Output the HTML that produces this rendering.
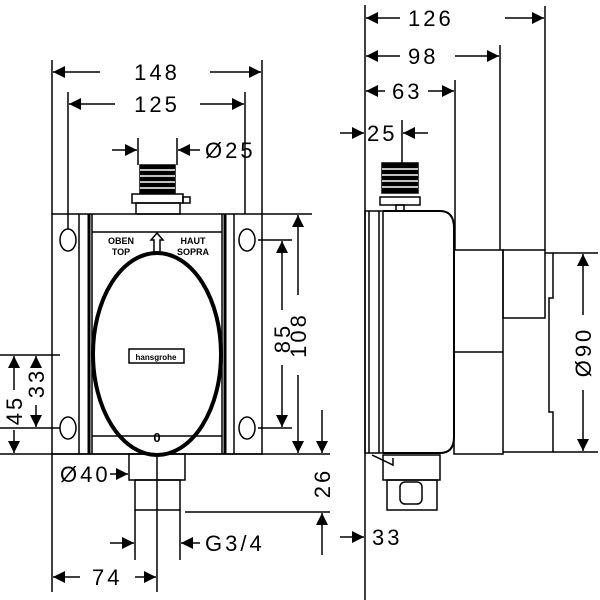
<!DOCTYPE html>
<html><head><style>body{margin:0;background:#fff}svg{display:block}text{font-family:"Liberation Sans",sans-serif;font-size:22px;fill:#000;letter-spacing:3px}</style></head><body>
<svg width="600" height="600" viewBox="0 0 600 600" stroke="#000" fill="none" stroke-width="1.5">
<defs><marker id="a" viewBox="0 0 10 10" refX="10" refY="5" markerWidth="20" markerHeight="12" markerUnits="userSpaceOnUse" orient="auto"><path d="M0,0L10,5L0,10z" fill="#000" stroke="none"/></marker></defs>
<!-- LEFT VIEW -->
<rect x="52" y="214" width="210" height="240"/>
<line x1="79" y1="214" x2="79" y2="454"/><line x1="234" y1="214" x2="234" y2="454"/>
<line x1="89" y1="214" x2="89" y2="454" stroke-width="3"/><line x1="225" y1="214" x2="225" y2="454" stroke-width="3"/>
<line x1="92" y1="214" x2="92" y2="454"/><line x1="222" y1="214" x2="222" y2="454"/>
<line x1="92" y1="232" x2="222" y2="232"/><line x1="92" y1="436" x2="222" y2="436"/>
<ellipse cx="68" cy="240" rx="8" ry="11"/><ellipse cx="68" cy="428" rx="8" ry="11"/>
<ellipse cx="247" cy="240" rx="8" ry="11"/><ellipse cx="247" cy="428" rx="8" ry="11"/>
<ellipse cx="157" cy="354" rx="64" ry="101" stroke-width="4"/>
<rect x="129" y="349" width="55" height="14"/>
<text x="156" y="360" style="font-size:8px;letter-spacing:0;font-weight:bold" text-anchor="middle" stroke="none">hansgrohe</text>
<text x="157" y="442" style="font-size:13px;font-weight:bold;letter-spacing:0" text-anchor="middle" stroke="none">0</text>
<text x="121" y="244" style="font-size:9px;font-weight:bold;letter-spacing:0" text-anchor="middle" stroke="none">OBEN</text>
<text x="121" y="255" style="font-size:9px;font-weight:bold;letter-spacing:0" text-anchor="middle" stroke="none">TOP</text>
<text x="193" y="244" style="font-size:9px;font-weight:bold;letter-spacing:0" text-anchor="middle" stroke="none">HAUT</text>
<text x="193" y="255" style="font-size:9px;font-weight:bold;letter-spacing:0" text-anchor="middle" stroke="none">SOPRA</text>
<path d="M154,252V240H151L157,233L163,240H160V252"/>
<!-- top connector -->
<rect x="140" y="165" width="35" height="28" fill="#000"/>
<g stroke="#fff" stroke-width="1.5"><line x1="140" y1="170" x2="175" y2="170"/><line x1="140" y1="176" x2="175" y2="176"/><line x1="140" y1="182" x2="175" y2="182"/><line x1="140" y1="188" x2="175" y2="188"/></g>
<rect x="132" y="194" width="51" height="9"/><rect x="136" y="203" width="44" height="11"/><rect x="183" y="197" width="7" height="6"/>
<!-- bottom outlet -->
<rect x="129" y="454" width="56" height="26"/><rect x="135" y="480" width="45" height="30"/>
<line x1="0" y1="454" x2="330" y2="454"/>
<!-- dims left -->
<line x1="52" y1="214" x2="52" y2="60"/><line x1="262" y1="214" x2="262" y2="60"/>
<line x1="100" y1="72" x2="53" y2="72" marker-end="url(#a)"/><line x1="210" y1="72" x2="261" y2="72" marker-end="url(#a)"/>
<text x="157" y="80" text-anchor="middle" stroke="none">148</text>
<line x1="68" y1="229" x2="68" y2="92"/><line x1="245" y1="214" x2="245" y2="92"/>
<line x1="115" y1="104" x2="69" y2="104" marker-end="url(#a)"/><line x1="200" y1="104" x2="244" y2="104" marker-end="url(#a)"/>
<text x="157" y="112" text-anchor="middle" stroke="none">125</text>
<line x1="138" y1="165" x2="138" y2="138"/><line x1="177" y1="165" x2="177" y2="138"/>
<line x1="112" y1="150" x2="137" y2="150" marker-end="url(#a)"/><line x1="200" y1="150" x2="178" y2="150" marker-end="url(#a)"/>
<text x="205" y="158" stroke="none">Ø25</text>
<line x1="262" y1="214" x2="312" y2="214"/><line x1="258" y1="240" x2="292" y2="240"/><line x1="258" y1="428" x2="292" y2="428"/>
<line x1="298" y1="295" x2="298" y2="215" marker-end="url(#a)"/><line x1="298" y1="375" x2="298" y2="453" marker-end="url(#a)"/>
<line x1="282" y1="310" x2="282" y2="241" marker-end="url(#a)"/><line x1="282" y1="365" x2="282" y2="427" marker-end="url(#a)"/>
<text transform="translate(306,335) rotate(-90)" text-anchor="middle" stroke="none">108</text>
<text transform="translate(290,338) rotate(-90)" text-anchor="middle" stroke="none">85</text>
<line x1="322" y1="410" x2="322" y2="453" marker-end="url(#a)"/><line x1="322" y1="555" x2="322" y2="513" marker-end="url(#a)"/>
<line x1="185" y1="512" x2="330" y2="512"/>
<text transform="translate(330,483) rotate(-90)" text-anchor="middle" stroke="none">26</text>
<line x1="0" y1="355" x2="60" y2="355"/><line x1="0" y1="428" x2="60" y2="428"/>
<line x1="14" y1="390" x2="14" y2="356" marker-end="url(#a)"/><line x1="14" y1="430" x2="14" y2="453" marker-end="url(#a)"/>
<line x1="36" y1="365" x2="36" y2="356" marker-end="url(#a)"/><line x1="36" y1="405" x2="36" y2="427" marker-end="url(#a)"/>
<text transform="translate(22,410) rotate(-90)" text-anchor="middle" stroke="none">45</text>
<text transform="translate(44,383) rotate(-90)" text-anchor="middle" stroke="none">33</text>
<text x="60" y="482" stroke="none">Ø40</text>
<line x1="110" y1="474" x2="128" y2="474" marker-end="url(#a)"/>
<line x1="135" y1="510" x2="135" y2="560"/><line x1="180" y1="510" x2="180" y2="560"/>
<line x1="110" y1="543" x2="134" y2="543" marker-end="url(#a)"/><line x1="200" y1="543" x2="181" y2="543" marker-end="url(#a)"/>
<text x="205" y="551" stroke="none">G3/4</text>
<line x1="52" y1="454" x2="52" y2="592"/><line x1="157" y1="454" x2="157" y2="592"/>
<line x1="80" y1="577" x2="53" y2="577" marker-end="url(#a)"/><line x1="135" y1="577" x2="156" y2="577" marker-end="url(#a)"/>
<text x="92" y="585" stroke="none">74</text>
<!-- RIGHT VIEW -->
<line x1="365" y1="5" x2="365" y2="600"/>
<rect x="365" y="211" width="18" height="242"/><line x1="379" y1="211" x2="379" y2="453"/><line x1="369" y1="211" x2="369" y2="453"/>
<path d="M383,211H440Q454,211 454,228V437Q454,453 440,453H383" stroke-width="2"/>
<rect x="454" y="250" width="49" height="204"/><line x1="454" y1="352" x2="503" y2="352"/>
<rect x="503" y="250" width="42" height="68"/>
<path d="M545,253H553V298H549V412H553V452H503"/>
<rect x="382" y="163" width="36" height="30" fill="#000"/>
<g stroke="#fff" stroke-width="1.5"><line x1="382" y1="169" x2="418" y2="169"/><line x1="382" y1="175" x2="418" y2="175"/><line x1="382" y1="181" x2="418" y2="181"/><line x1="382" y1="187" x2="418" y2="187"/></g>
<rect x="380" y="197" width="40" height="8"/><rect x="396" y="205" width="8" height="6"/>
<path d="M372,455L393,465V458"/>
<rect x="383" y="455" width="57" height="25"/><rect x="387" y="480" width="50" height="30"/><rect x="400" y="482" width="22" height="22" rx="5"/>
<line x1="455" y1="250" x2="455" y2="80"/><line x1="500" y1="250" x2="500" y2="45"/><line x1="545" y1="250" x2="545" y2="6"/>
<line x1="400" y1="18" x2="366" y2="18" marker-end="url(#a)"/><line x1="505" y1="18" x2="544" y2="18" marker-end="url(#a)"/>
<text x="408" y="26" stroke="none">126</text>
<line x1="400" y1="56" x2="366" y2="56" marker-end="url(#a)"/><line x1="455" y1="56" x2="499" y2="56" marker-end="url(#a)"/>
<text x="408" y="64" stroke="none">98</text>
<line x1="385" y1="91" x2="366" y2="91" marker-end="url(#a)"/><line x1="428" y1="91" x2="454" y2="91" marker-end="url(#a)"/>
<text x="392" y="99" stroke="none">63</text>
<line x1="402" y1="163" x2="402" y2="120"/>
<line x1="340" y1="133" x2="364" y2="133" marker-end="url(#a)"/><line x1="428" y1="133" x2="403" y2="133" marker-end="url(#a)"/>
<text x="367" y="141" stroke="none">25</text>
<line x1="340" y1="537" x2="364" y2="537" marker-end="url(#a)"/>
<text x="372" y="545" stroke="none">33</text>
<line x1="553" y1="253" x2="598" y2="253"/><line x1="553" y1="452" x2="598" y2="452"/>
<line x1="583" y1="315" x2="583" y2="254" marker-end="url(#a)"/><line x1="583" y1="390" x2="583" y2="451" marker-end="url(#a)"/>
<text transform="translate(591,352) rotate(-90)" text-anchor="middle" stroke="none">Ø90</text>
</svg>
</body></html>
